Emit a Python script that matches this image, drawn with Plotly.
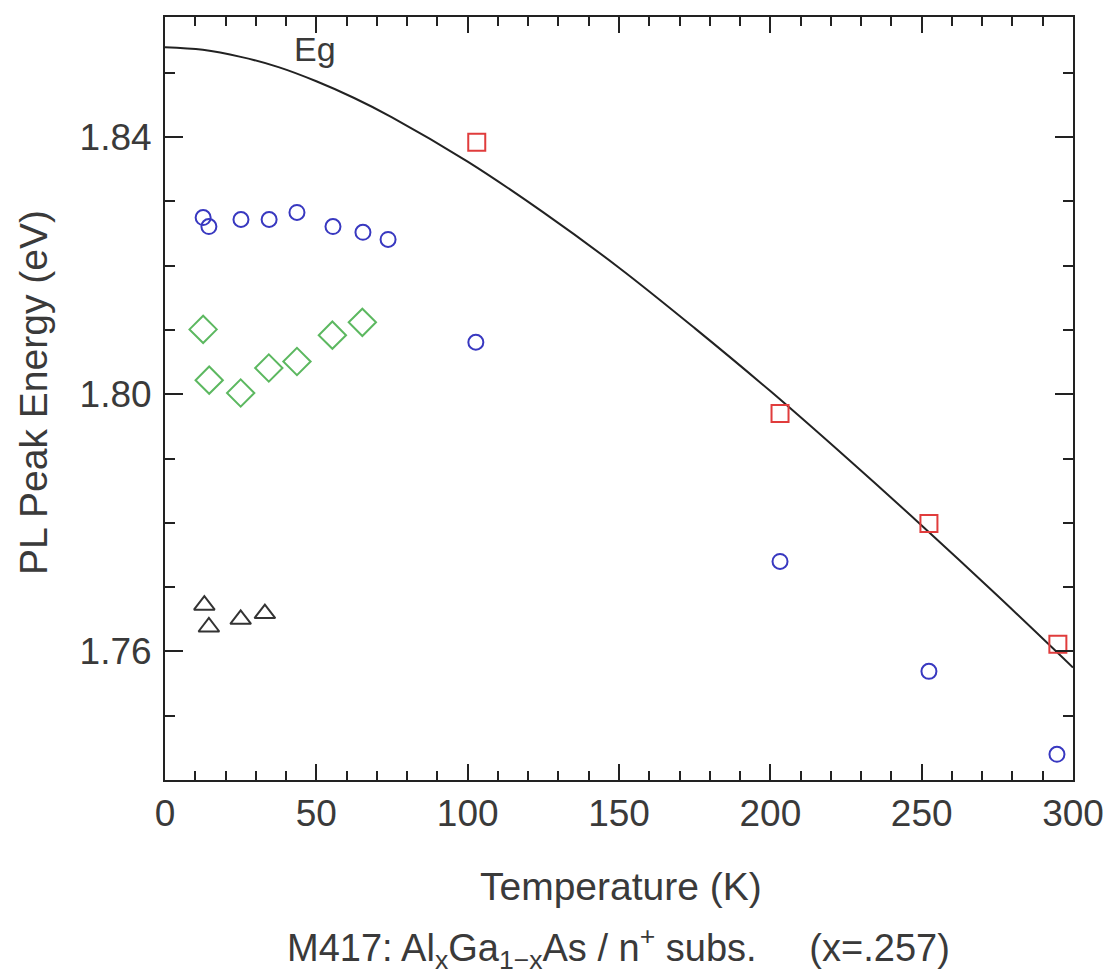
import plotly.graph_objects as go

# Data
circ_T = [12.6, 14.5, 25.1, 34.4, 43.6, 55.5, 65.4, 73.7, 102.7, 203.2, 252.4, 294.7]
circ_E = [1.8275, 1.8261, 1.8272, 1.8272, 1.8283, 1.8261, 1.8252, 1.8241, 1.8081, 1.7740, 1.7569, 1.7440]

sq_T = [103.0, 203.2, 252.4, 295.0]
sq_E = [1.8392, 1.7970, 1.7799, 1.7611]

dia_T = [12.6, 14.6, 25.0, 34.3, 43.6, 55.3, 65.2]
dia_E = [1.8101, 1.8022, 1.8002, 1.8041, 1.8051, 1.8092, 1.8112]

tri_T = [13.0, 14.5, 25.0, 33.0]
tri_E = [1.7672, 1.7638, 1.7650, 1.7659]

eg_T = [0, 12.5, 25, 37.5, 50, 62.5, 75, 100, 125, 150, 175, 200, 225, 250, 275, 300]
eg_E = [1.8540, 1.8536, 1.8525, 1.8509, 1.8487, 1.8461, 1.8431, 1.8362, 1.8283, 1.8197, 1.8103,
        1.8005, 1.7902, 1.7796, 1.7687, 1.7575]

x_ticks = [0, 50, 100, 150, 200, 250, 300]
y_ticks = [1.76, 1.80, 1.84]
y_ticktext = ["1.76", "1.80", "1.84"]

FONT = "Liberation Sans, Arial, sans-serif"
TXT = "#3a3a3a"

fig = go.Figure()
fig.add_trace(go.Scatter(x=eg_T, y=eg_E, mode="lines", line=dict(color="#222222", width=2, shape="spline"),
                         hoverinfo="skip"))
fig.add_trace(go.Scatter(x=circ_T, y=circ_E, mode="markers",
                         marker=dict(symbol="circle-open", size=15, color="#3838c0", line=dict(width=2))))
fig.add_trace(go.Scatter(x=sq_T, y=sq_E, mode="markers",
                         marker=dict(symbol="square-open", size=17, color="#e03c3c", line=dict(width=2))))
fig.add_trace(go.Scatter(x=dia_T, y=dia_E, mode="markers",
                         marker=dict(symbol="diamond-open", size=21, color="#5cb860", line=dict(width=2))))
fig.add_trace(go.Scatter(x=tri_T, y=tri_E, mode="markers",
                         marker=dict(symbol="triangle-up-open", size=18, color="#333333", line=dict(width=2))))

fig.update_layout(
    width=1109, height=975,
    margin=dict(l=165, r=36, t=17, b=195),
    paper_bgcolor="white", plot_bgcolor="white",
    showlegend=False,
    font=dict(family=FONT, size=37, color=TXT),
    xaxis=dict(range=[0, 300], tickvals=x_ticks, ticks="inside", ticklen=16, tickwidth=2, automargin=False,
               tickcolor="#222", showline=True, linecolor="#222", linewidth=2, mirror="ticks",
               showgrid=False, zeroline=False, tickfont=dict(size=37, color=TXT),
               minor=dict(dtick=10, tick0=0, ticks="inside", ticklen=9, tickwidth=2, tickcolor="#222", showgrid=False)),
    yaxis=dict(range=[1.74, 1.8587], tickvals=y_ticks, ticktext=y_ticktext, ticks="inside", ticklen=18, tickwidth=2,
               automargin=False,
               tickcolor="#222", showline=True, linecolor="#222", linewidth=2, mirror="ticks",
               showgrid=False, zeroline=False, tickfont=dict(size=37, color=TXT), ticklabelstandoff=4,
               minor=dict(dtick=0.01, tick0=1.74, ticks="inside", ticklen=10, tickwidth=2, tickcolor="#222", showgrid=False)),
)

annots = [
    dict(text="Eg", x=49.5, y=1.8537, xref="x", yref="y", showarrow=False, font=dict(size=34, color=TXT)),
    dict(text="Temperature (K)", x=621, y=975 - 886, showarrow=False,
         font=dict(size=39, color=TXT)),
    dict(text="PL Peak Energy (eV)", x=33, y=975 - 393, textangle=-90, showarrow=False,
         font=dict(size=39, color=TXT)),
    dict(text="M417: Al<sub>x</sub>Ga<sub>1\u2212x</sub>As / n<sup>+</sup> subs.&nbsp;&nbsp;&nbsp;&nbsp;&nbsp;(x=.257)",
         x=618, y=975 - 948, showarrow=False, font=dict(size=38, color=TXT)),
]
# convert pixel positions of the outer texts to paper coords
pl_l, pl_r, pl_t, pl_b = 165, 1073, 17, 780
W = pl_r - pl_l
H = pl_b - pl_t
for a in annots[1:]:
    px, py_from_bottom = a["x"], a["y"]
    py = 975 - py_from_bottom
    a["x"] = (px - pl_l) / W
    a["y"] = (pl_b - py) / H
    a["xref"] = "paper"
    a["yref"] = "paper"
    a["xanchor"] = "center"
    a["yanchor"] = "middle"
fig.update_layout(annotations=annots)

fig.write_html("out.html")
